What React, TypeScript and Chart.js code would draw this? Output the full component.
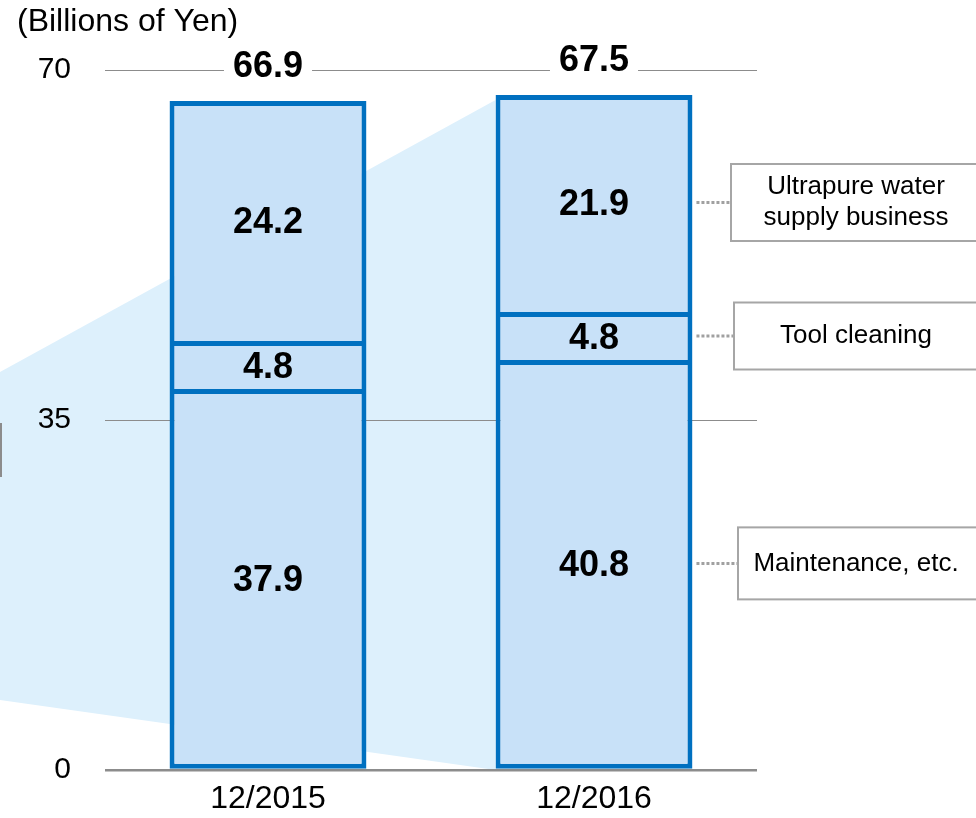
import React, { useEffect, useRef } from "react";
import { Chart, registerables } from "chart.js";

Chart.register(...registerables);

// ---- data ----
const categories = ["12/2015", "12/2016"];
const maintenance = [37.9, 40.8];
const toolCleaning = [4.8, 4.8];
const ultrapure = [24.2, 21.9];
const totals = [66.9, 67.5];
const seriesNames = ["Maintenance, etc.", "Tool cleaning", "Ultrapure water supply business"];
const legendLines = [["Maintenance, etc."], ["Tool cleaning"], ["Ultrapure water", "supply business"]];
const unitLabel = "(Billions of Yen)";
const yMin = 0;
const yMax = 70;
const yStep = 35;
// decorative "zoom" wedge (values on the y scale): left edge [top, bottom], right edge [top, bottom]
const wedgeLeft = [39.8, 7.0];
const wedgeRight = [67.0, 0];
const bracketRange = [34.7, 29.3];

const FONT = "'Liberation Sans', Arial, Helvetica, sans-serif";
const BLUE = "#0070C0";
const FILL = "#C8E1F8";
const WEDGE = "#DDF0FC";
const GRID = "#8C8C8C";

// legend box styling (left x, height)
const boxLefts = [738, 734, 731];
const boxHeights = [72, 67, 77];

const decorPlugin = {
  id: "decor",
  beforeDraw(chart: any) {
    const { ctx } = chart;
    const y = chart.scales.y;
    const el = chart.getDatasetMeta(0).data[1] as any;
    const left2 = el.x - el.width / 2;
    ctx.save();
    ctx.fillStyle = WEDGE;
    ctx.beginPath();
    ctx.moveTo(0, y.getPixelForValue(wedgeLeft[0]));
    ctx.lineTo(left2, y.getPixelForValue(wedgeRight[0]));
    ctx.lineTo(left2, y.getPixelForValue(wedgeRight[1]));
    ctx.lineTo(0, y.getPixelForValue(wedgeLeft[1]));
    ctx.closePath();
    ctx.fill();
    ctx.strokeStyle = GRID;
    ctx.lineWidth = 2;
    ctx.beginPath();
    ctx.moveTo(1, y.getPixelForValue(bracketRange[0]));
    ctx.lineTo(1, y.getPixelForValue(bracketRange[1]));
    ctx.stroke();
    // unit label
    ctx.fillStyle = "#000";
    ctx.font = `32px ${FONT}`;
    ctx.textAlign = "left";
    ctx.textBaseline = "alphabetic";
    ctx.fillText(unitLabel, 17, 31);
    ctx.restore();
  },
  afterDatasetsDraw(chart: any) {
    const { ctx } = chart;
    const nSets = chart.data.datasets.length;
    ctx.save();
    ctx.textAlign = "center";
    ctx.textBaseline = "middle";
    // segment labels
    ctx.font = `bold 36px ${FONT}`;
    ctx.fillStyle = "#000";
    for (let d = 0; d < nSets; d++) {
      const meta = chart.getDatasetMeta(d);
      const vals = chart.data.datasets[d].data as number[];
      meta.data.forEach((el: any, i: number) => {
        ctx.fillText(vals[i].toFixed(1), el.x, (el.y + el.base) / 2 + 1);
      });
    }
    // totals with white background
    const topMeta = chart.getDatasetMeta(nSets - 1);
    topMeta.data.forEach((el: any, i: number) => {
      const txt = totals[i].toFixed(1);
      const w = ctx.measureText(txt).width;
      const cy = el.y - 34;
      ctx.fillStyle = "#fff";
      ctx.fillRect(el.x - w / 2 - 9, cy - 16, w + 18, 32);
      ctx.fillStyle = "#000";
      ctx.fillText(txt, el.x, cy);
    });
    // connectors + legend boxes, aligned with the segments of the last bar
    const last = categories.length - 1;
    for (let d = 0; d < nSets; d++) {
      const el = chart.getDatasetMeta(d).data[last] as any;
      const cy = (el.y + el.base) / 2 - 2;
      const right = el.x + el.width / 2;
      const bl = boxLefts[d];
      const bh = boxHeights[d];
      ctx.strokeStyle = "#A0A0A0";
      ctx.lineWidth = 3;
      ctx.setLineDash([3, 2]);
      ctx.beginPath();
      ctx.moveTo(right + 4, cy);
      ctx.lineTo(bl, cy);
      ctx.stroke();
      ctx.setLineDash([]);
      ctx.strokeStyle = "#A6A6A6";
      ctx.lineWidth = 2;
      ctx.strokeRect(bl, cy - bh / 2, 260, bh);
      ctx.fillStyle = "#000";
      ctx.font = `26px ${FONT}`;
      const lines = legendLines[d];
      const lh = 31;
      lines.forEach((ln, k) => {
        ctx.fillText(ln, 856, cy + (k - (lines.length - 1) / 2) * lh);
      });
    }
    ctx.restore();
  },
};

function borderFor(pos: "bottom" | "middle" | "top") {
  return {
    left: 5,
    right: 5,
    bottom: pos === "bottom" ? 5 : 2,
    top: pos === "top" ? 5 : 3,
  };
}

export default function App() {
  const ref = useRef<HTMLCanvasElement | null>(null);
  useEffect(() => {
    if (!ref.current) return;
    const chart = new Chart(ref.current, {
      type: "bar",
      data: {
        labels: categories,
        datasets: [
          { label: seriesNames[0], data: maintenance, backgroundColor: FILL, borderColor: BLUE, borderWidth: borderFor("bottom"), borderSkipped: false },
          { label: seriesNames[1], data: toolCleaning, backgroundColor: FILL, borderColor: BLUE, borderWidth: borderFor("middle"), borderSkipped: false },
          { label: seriesNames[2], data: ultrapure, backgroundColor: FILL, borderColor: BLUE, borderWidth: borderFor("top"), borderSkipped: false },
        ],
      },
      options: {
        responsive: false,
        animation: false,
        devicePixelRatio: 1,
        layout: { padding: { top: 70, right: 219, left: 0, bottom: 0 } },
        datasets: { bar: { categoryPercentage: 1, barPercentage: 0.604 } },
        plugins: { legend: { display: false }, tooltip: { enabled: false }, title: { display: false } },
        scales: {
          x: {
            stacked: true,
            grid: { display: false },
            border: { display: false },
            ticks: { color: "#000", font: { family: FONT, size: 32 }, padding: 2 },
            afterFit: (s: any) => { s.height = 48; },
          },
          y: {
            stacked: true,
            min: yMin,
            max: yMax,
            border: { display: false },
            grid: {
              color: GRID,
              lineWidth: (c: any) => (c.tick && c.tick.value === 0 ? 2.5 : 1),
              drawTicks: false,
            },
            ticks: { stepSize: yStep, color: "#000", font: { family: FONT, size: 30, lineHeight: 0.8 }, padding: 34 },
            afterFit: (s: any) => { s.width = 105; },
          },
        },
      },
      plugins: [decorPlugin],
    } as any);
    return () => chart.destroy();
  }, []);
  return (
    <div style={{ position: "absolute", left: 0, top: 0, width: 976, height: 818, background: "#fff" }}>
      <canvas ref={ref} width={976} height={818} style={{ display: "block" }} />
    </div>
  );
}
